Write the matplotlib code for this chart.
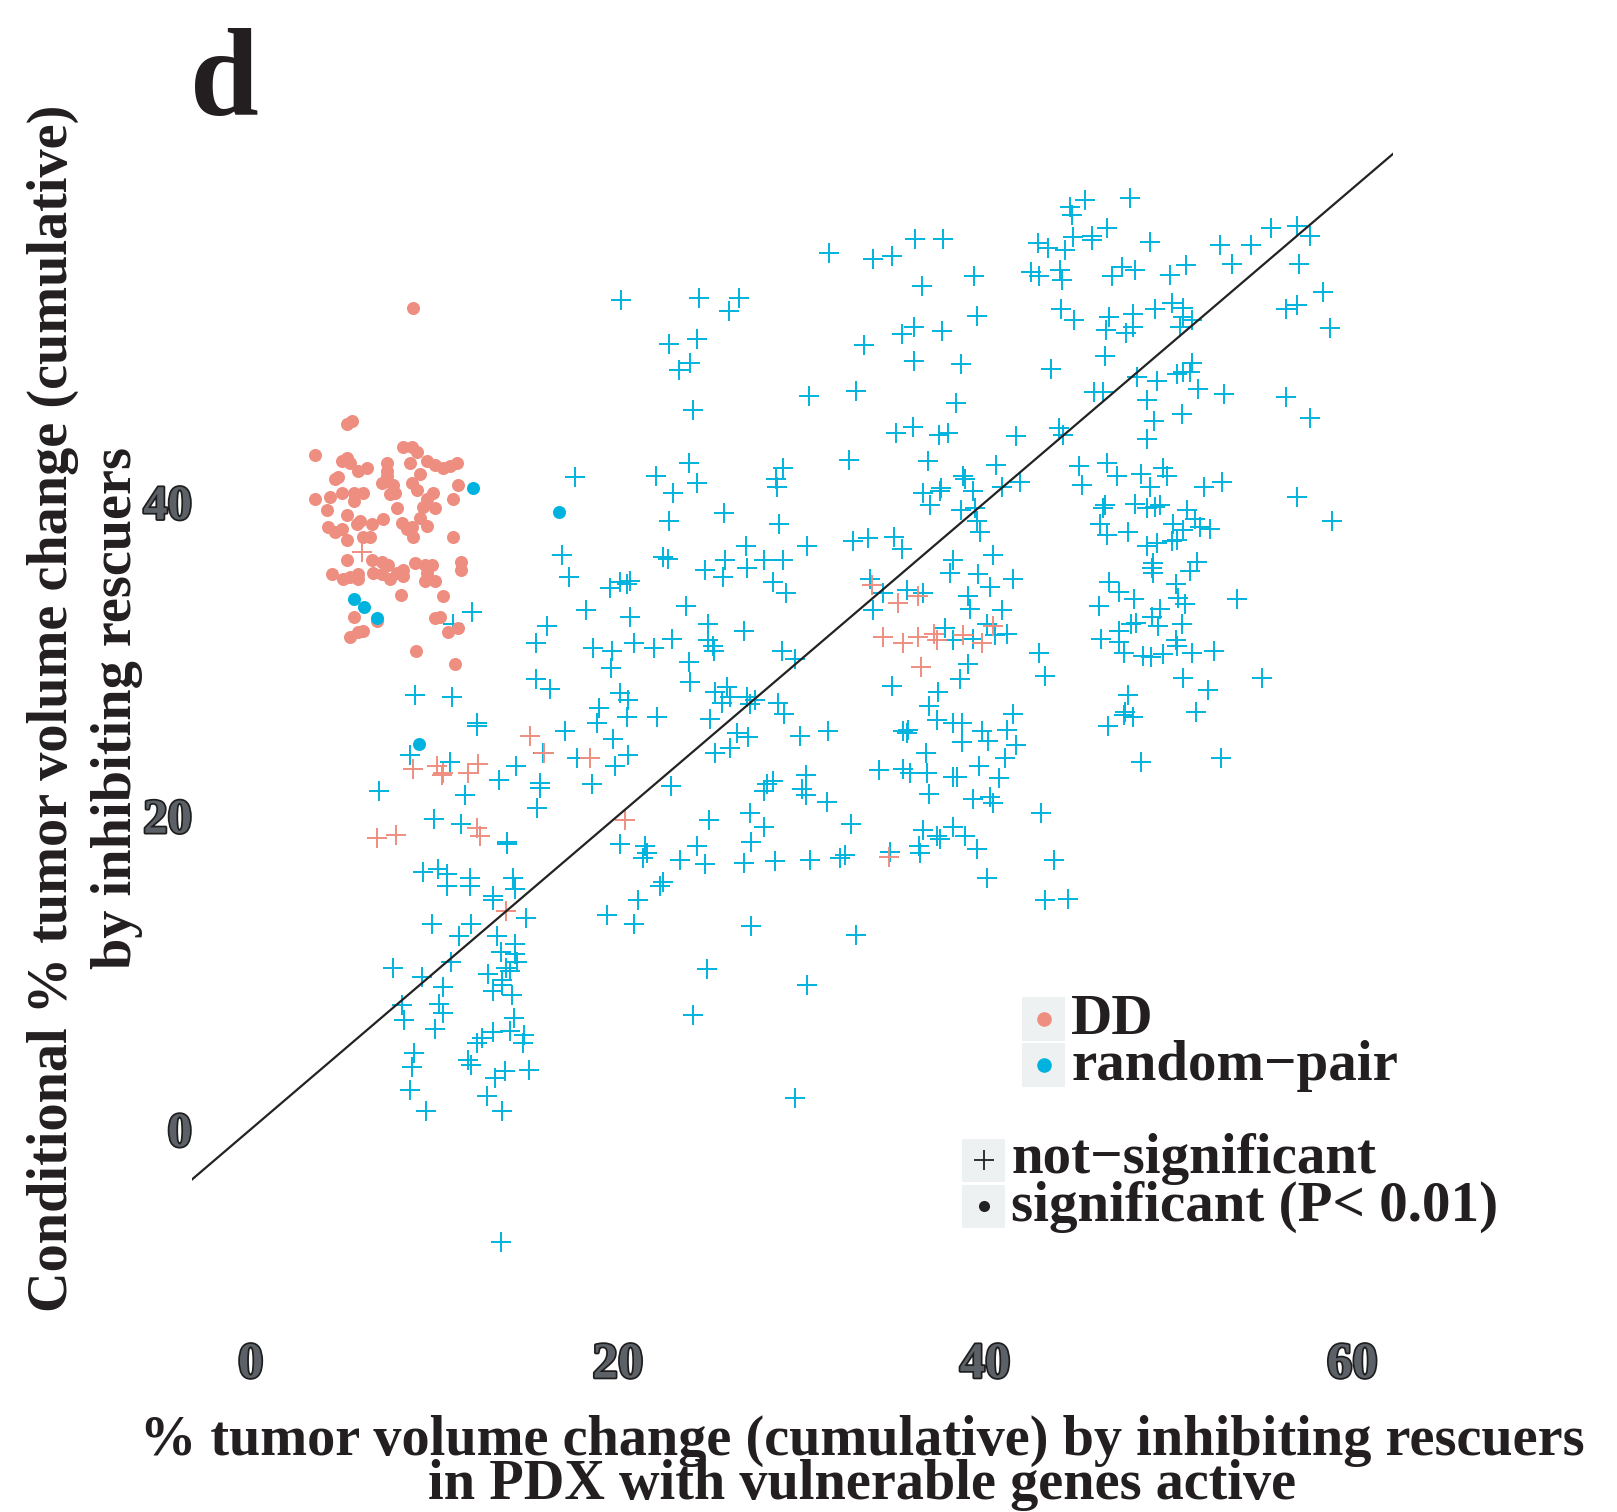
import matplotlib
matplotlib.use("Agg")
import matplotlib.pyplot as plt
import matplotlib.patheffects as pe
from matplotlib.patches import Rectangle
from matplotlib.lines import Line2D
import numpy as np

plt.rcParams['font.family'] = ['Liberation Serif', 'DejaVu Serif']
plt.rcParams['font.weight'] = 'bold'

# ---------------- data ----------------
# random-pair, not significant (crosses)
rp_ns = [
 (20.16,52.9),(17.67,41.6),
 (16.94,36.6),(17.36,35.2),(12.04,33.0),(11.0,32.2),(16.13,32.1),(18.27,33.1),(19.57,34.5),(20.12,34.9),(20.48,34.8),(20.66,35.0),(20.66,32.7),(15.55,31.0),(18.67,30.7),(19.67,30.5),(20.85,31.0),(19.62,29.4),(15.55,28.7),(16.3,28.1),(20.12,27.8),(20.57,27.4),(8.95,27.7),(10.95,27.6),(18.99,26.9),(18.85,25.9),(20.5,26.3),(12.3,25.9),(12.3,25.7),(17.12,25.4),(19.75,24.9),(20.57,23.9),(19.85,23.2),(17.76,23.7),(15.94,24.0),(10.86,23.4),(8.68,23.9),(14.46,23.2),(13.53,22.3),(15.76,22.1),(15.76,21.8),(18.58,22.0),(11.68,21.3),(6.99,21.6),(15.58,20.5),(9.99,19.8),(11.46,19.5),(13.95,18.3),(13.95,18.2),(20.12,18.2),(9.41,16.4),(10.22,16.6),(10.68,16.3),(11.95,16.0),(11.95,15.5),(10.68,15.5),(14.3,16.0),(14.4,15.3),
 (13.22,14.9),(13.22,14.6),(15.0,13.5),(9.86,13.1),(11.99,13.1),(11.35,12.3),(13.4,12.3),(19.43,13.7),(20.85,13.1),(21.12,14.6),(13.62,11.3),(14.4,11.2),(14.49,10.7),(14.4,11.8),(7.77,10.3),(9.32,9.7),(10.92,10.7),(10.46,9.1),(12.91,9.9),(13.91,10.3),(14.13,10.1),(13.68,9.5),(13.22,8.8),(14.22,8.6),(13.68,9.2),(8.23,7.9),(8.36,7.0),(10.28,8.0),(10.46,7.4),(10.04,6.4),(14.36,7.1),(13.19,6.2),(14.13,6.3),(14.89,6.0),(14.82,5.5),(12.31,5.5),(12.59,5.8),(8.9,4.9),(8.77,4.0),(11.86,4.4),(11.99,4.1),(13.86,3.7),(13.31,3.3),(15.18,3.8),(8.68,2.5),(12.89,2.1),(9.55,1.2),(13.68,1.2),(13.64,-7.2),
 (27.24,13.0),(32.97,12.4),(24.84,10.2),(30.29,9.2),(24.11,7.3),(29.65,2.0),
 (31.5,55.9),(33.88,55.5),(34.92,55.7),(36.19,56.8),(37.7,56.8),(39.42,54.4),(36.55,53.8),(39.55,51.9),(24.39,53.0),(26.6,53.0),(26.07,52.2),(22.8,50.1),(24.33,50.4),(23.9,48.9),(23.35,48.4),(24.08,45.9),(33.4,50.0),(36.1,51.2),(35.5,50.7),(37.64,50.9),(36.1,49.0),(38.67,48.8),(30.4,46.8),(32.96,47.1),(38.4,46.3),(35.15,44.4),(36.06,44.8),(37.5,44.3),(38.0,44.4),(32.6,42.7),(22.08,41.7),(22.99,40.6),(23.85,42.5),(24.33,41.2),(28.98,42.2),(28.62,41.5),(28.65,41.0),(22.8,38.8),(25.78,39.3),(28.8,38.6),(36.9,42.6),(38.82,41.7),(38.9,41.5),(37.6,40.9),(37.55,40.7),(36.6,40.6),(37.0,39.8),(39.33,40.7),(38.67,39.5),(39.45,39.6),(39.55,38.8),(39.7,38.1),(33.64,37.7),(35.04,37.8),(40.6,42.4),
 (44.63,58.8),(45.45,59.3),(44.72,58.3),(47.9,59.4),(42.9,56.5),(43.45,56.2),(44.36,56.1),(44.81,56.9),(45.8,57.0),(45.8,56.7),(46.63,57.5),(49.0,56.6),(42.5,54.7),(42.96,54.4),(44.1,54.8),(44.2,54.2),(46.9,54.4),(47.45,55.0),(48.17,54.8),(50.08,54.5),(50.93,55.1),(52.8,56.4),(54.47,56.4),(55.56,57.5),(56.98,57.6),(57.7,57.0),(53.44,55.2),(57.1,55.2),(58.4,53.4),(56.4,52.3),(56.98,52.6),(58.8,51.1),(44.12,52.3),(44.85,51.6),(46.77,51.8),(48.08,52.0),(46.6,51.0),(47.7,50.8),(48.05,51.2),(49.26,52.3),(50.2,52.7),(50.77,52.4),(50.77,51.8),(51.26,51.6),(50.6,51.2),(43.6,48.5),(46.55,49.3),(45.95,47.0),(46.44,47.0),(48.26,48.0),(49.35,47.7),(50.44,48.2),(50.8,48.3),(51.26,48.9),(51.17,48.3),(51.6,47.2),(53.0,46.9),(48.8,46.5),(49.2,45.2),(50.7,45.6),(48.8,44.0),(56.4,46.7),(57.7,45.4),(41.7,44.2),(44.0,44.7),(44.23,44.3),(41.9,41.3),(40.9,41.0),(45.14,42.3),(45.27,41.1),(46.63,42.5),(47.17,41.7),(48.48,41.8),(48.99,41.0),(49.71,42.2),(49.9,41.7),(51.9,41.0),(52.9,41.3),(56.98,40.3),(58.9,38.8),(46.44,39.6),(46.53,39.8),(46.26,38.6),(48.17,39.9),(48.8,39.6),(49.26,39.7),(49.5,39.8),(51.0,39.5),(51.44,38.9),(51.7,38.4),(52.25,38.3),(50.25,38.6),(50.8,38.2),(47.8,38.1),(46.63,37.9),
 (22.48,36.5),(22.75,36.4),(26.98,37.2),(30.3,37.2),(32.8,37.5),(35.46,37.0),(24.75,35.7),(25.84,36.3),(25.75,35.2),(27.05,35.8),(27.93,36.3),(29.0,36.3),(28.43,34.9),(29.16,34.2),(23.71,33.4),(24.93,32.2),(25.2,30.8),(25.24,30.5),(24.93,31.2),(26.88,31.8),(21.94,30.7),(22.94,31.3),(23.88,29.8),(23.93,28.5),(28.93,30.5),(29.65,30.0),(25.3,27.9),(25.93,28.2),(26.11,27.6),(25.66,27.2),(27.02,27.6),(27.2,27.1),(27.48,27.4),(28.74,27.2),(29.05,26.5),(22.12,26.3),(25.02,26.2),(26.48,25.3),(27.1,25.0),(26.11,24.3),(25.3,24.0),(29.92,25.1),(31.46,25.4),(33.73,35.1),(33.9,33.1),(34.46,34.2),(35.73,34.4),(36.64,34.2),(37.82,32.0),(38.27,31.2),(39.36,31.3),(40.1,32.2),(40.55,31.5),(39.63,35.4),(40.27,34.6),(39.09,34.0),(39.18,33.2),(38.27,36.3),(38.1,35.5),(40.45,36.6),(34.92,28.3),(39.09,29.7),(38.64,28.7),(37.46,27.9),(36.92,27.0),(37.37,26.1),(38.27,25.9),(38.73,25.9),(35.55,25.4),(35.73,25.3),(35.82,25.5),(38.73,24.7),(39.82,25.4),(40.18,24.8),(36.79,24.0),(34.2,22.9),(35.55,23.0),(35.92,22.7),(36.83,22.7),(38.27,22.5),(38.46,22.5),(39.64,23.2),(40.73,22.4),(36.92,21.4),(39.36,21.1),(40.27,21.2),(40.45,20.8),(22.9,21.9),(27.93,21.6),(28.47,22.2),(28.1,22.0),(30.22,22.6),(30.0,21.7),(30.22,21.3),(31.38,20.9),(27.2,20.2),(27.96,19.3),(27.25,18.3),(24.97,19.7),(32.68,19.5),(24.3,18.1),(23.39,17.2),(24.75,16.9),(21.48,18.1),(21.57,17.6),(21.39,17.3),(26.87,17.0),(28.56,17.1),(30.47,17.2),(32.1,17.3),(32.37,17.5),(36.6,19.1),(37.37,18.7),(37.55,18.5),(38.27,19.3),(38.91,18.7),(39.55,17.9),(36.42,18.1),(36.46,17.6),(34.83,17.7),(40.1,16.0),(22.48,15.8),(22.3,15.5),
 (41.5,35.1),(40.9,33.1),(41.19,31.6),(42.95,30.4),(43.28,28.9),(41.54,26.5),(41.19,25.5),(41.7,24.5),(41.1,23.7),(43.03,20.2),(43.76,17.2),(44.54,14.7),(43.27,14.6),(48.8,37.2),(49.35,37.4),(50.17,37.5),(50.44,37.6),(49.17,36.1),(49.08,35.8),(49.17,35.5),(51.54,36.2),(51.17,35.6),(46.75,34.9),(47.3,34.3),(46.2,33.4),(48.11,33.8),(50.39,34.8),(50.53,33.9),(50.9,33.5),(53.7,33.8),(49.53,33.2),(49.11,32.7),(49.4,32.1),(50.72,32.2),(47.95,32.2),(48.21,32.3),(47.3,31.8),(46.3,31.3),(47.3,31.1),(47.56,30.4),(48.62,30.2),(49.04,30.1),(49.67,30.3),(50.4,31.2),(50.44,30.8),(51.26,30.4),(52.44,30.5),(50.8,28.8),(55.1,28.8),(52.13,28.0),(47.8,27.7),(47.63,26.6),(48.05,26.3),(47.57,26.4),(51.5,26.6),(46.68,25.7),(52.85,23.7),(48.5,23.4),
]
rp_ns_x = [p[0] for p in rp_ns]
rp_ns_y = [p[1] for p in rp_ns]

# random-pair, significant (dots)
rp_sig_x = [12.13, 16.8, 5.64, 6.18, 6.9, 9.17]
rp_sig_y = [40.9, 39.4, 33.8, 33.3, 32.6, 24.6]

# DD, not significant (crosses)
dd_ns = [
 (6.05,36.8),(15.22,25.1),(15.95,24.0),(18.49,23.7),(8.83,23.0),(10.14,23.2),(10.5,22.7),(10.41,22.6),(11.86,22.7),(12.4,23.3),(6.9,18.6),(7.92,18.8),(12.3,19.2),(12.49,18.7),(20.39,19.7),(13.9,13.9),
 (33.83,34.7),(35.28,33.6),(36.37,34.0),(34.43,31.4),(35.55,31.0),(36.37,31.4),(37.19,31.6),(37.37,31.2),(38.82,31.5),(39.82,31.0),(40.45,32.1),(36.5,29.5),(34.74,17.4),
]
dd_ns_x = [p[0] for p in dd_ns]
dd_ns_y = [p[1] for p in dd_ns]

# DD, significant (dots)
dd_sig = [
 (8.86,52.4),
 (5.51,45.2),(5.23,45.0),(3.51,43.0),(4.96,42.6),(5.23,42.8),(5.41,42.5),(5.87,42.0),(6.32,42.2),(4.6,41.5),(4.78,41.6),(7.41,42.5),(7.41,42.0),(7.41,41.7),(8.32,43.5),(8.77,43.5),(9.05,43.2),(8.68,42.5),(9.59,42.6),(10.04,42.4),(10.5,42.2),(10.86,42.3),(11.23,42.5),(9.23,41.8),(7.14,41.2),(7.77,41.1),(7.86,40.6),(7.59,40.5),(8.77,41.2),(9.05,40.8),(9.95,40.6),(9.59,40.2),(11.3,41.1),(3.5,40.2),(4.32,40.3),(4.96,40.6),(5.6,40.6),(6.14,40.6),(5.6,40.1),(4.14,39.5),(5.23,39.2),(7.95,39.6),(9.41,39.7),(10.04,39.6),(11.0,40.2),(4.23,38.4),(4.6,38.1),(4.96,38.3),(5.78,38.6),(5.96,38.8),(6.6,38.6),(7.23,38.9),(8.23,38.7),(8.5,38.3),(8.77,38.4),(9.23,39.0),(9.59,38.5),(5.23,37.6),(6.14,37.8),(6.5,37.8),(8.86,37.8),(11.04,37.8),
 (5.23,36.3),(6.6,36.3),(4.42,35.4),(5.05,35.1),(5.41,35.2),(5.87,35.4),(5.87,35.1),(6.68,35.5),(7.14,36.2),(7.5,36.0),(7.14,35.4),(7.59,35.1),(7.95,35.5),(8.32,35.7),(8.32,35.3),(8.95,36.1),(9.5,36.0),(9.86,36.0),(9.59,35.5),(10.04,35.0),(9.5,35.0),(11.46,36.2),(11.46,35.7),(8.17,34.1),(10.5,34.0),(5.6,32.7),(6.14,31.8),(5.87,31.7),(5.41,31.4),(6.87,32.4),(10.04,32.6),(10.32,32.7),(10.77,31.7),(11.31,32.0),(8.99,30.5),(11.13,29.7),
]
dd_sig_x = [p[0] for p in dd_sig]
dd_sig_y = [p[1] for p in dd_sig]

x_ticks = [0, 20, 40, 60]
y_ticks = [0, 20, 40]

group_labels = ["DD", "random\u2212pair"]
sig_labels = ["not\u2212significant", "significant (P< 0.01)"]

# ---------------- styling ----------------
W, H = 1617, 1512
C_DD = '#EE8E80'
C_RP = '#00B3DE'
fig = plt.figure(figsize=(W/100, H/100), dpi=100)
fig.patch.set_facecolor('white')

def fx(px):
    return px / W

def fy(py):
    return 1 - py / H

ax = fig.add_axes([0.1187, 0.1442, 0.7426, 0.7601])
ax.set_xlim(-3.2, 62.2)
ax.set_ylim(-10.5, 62.8)
for s in ax.spines.values():
    s.set_visible(False)
ax.set_facecolor('white')

cross_kw = dict(marker='+', s=200, linewidths=1.4)
ax.scatter(rp_ns_x, rp_ns_y, color=C_RP, zorder=2, **cross_kw)
ax.scatter(dd_ns_x, dd_ns_y, color=C_DD, zorder=2, **cross_kw)
ax.scatter(dd_sig_x, dd_sig_y, color=C_DD, s=88, marker='o', linewidths=0, zorder=3)
ax.scatter(rp_sig_x, rp_sig_y, color=C_RP, s=88, marker='o', linewidths=0, zorder=4)

xl = ax.get_xlim()
ax.plot(xl, xl, color='#222222', lw=1.6, zorder=5)
ax.set_xlim(xl)

ax.set_xticks(x_ticks)
ax.set_yticks(y_ticks)
ax.set_xticklabels([str(v) for v in x_ticks])
ax.set_yticklabels([str(v) for v in y_ticks])
ax.tick_params(axis='both', length=0, labelcolor='#5b6166')
ax.tick_params(axis='x', pad=35, labelsize=36.5)
ax.tick_params(axis='y', pad=0, labelsize=35)
for lab in ax.get_xticklabels() + ax.get_yticklabels():
    lab.set_fontweight('bold')
    lab.set_path_effects([pe.withStroke(linewidth=2.5, foreground='#1e1e1e')])

TXT = '#231f20'
# axis titles
fig.text(fx(85), fy(708), "Conditional % tumor volume change (cumulative)\nby inhibiting rescuers",
         rotation=90, ha='center', va='center', multialignment='center',
         fontsize=40.5, fontweight='bold', color=TXT, linespacing=1.3)
fig.text(fx(862), fy(1463), "% tumor volume change (cumulative) by inhibiting rescuers\n"
         "in PDX with vulnerable genes active",
         ha='center', va='center', multialignment='center', linespacing=0.8,
         fontsize=40.5, fontweight='bold', color=TXT)

# panel letter
fig.text(fx(190), fy(115), "d", ha='left', va='baseline', fontsize=89, fontweight='bold', color=TXT)

# legends
KEY_BG = '#EEF1F2'
def key_box(x0, y0, x1, y1):
    fig.add_artist(Rectangle((fx(x0), fy(y1)), (x1 - x0) / W, (y1 - y0) / H,
                             transform=fig.transFigure, facecolor=KEY_BG, edgecolor='none'))

# colour legend
col_boxes = [(997, 1040.7, 1019), (1043, 1086.7, 1065)]
for (y0, y1, yc), col in zip(col_boxes, [C_DD, C_RP]):
    key_box(1022, y0, 1065, y1)
    fig.add_artist(Line2D([fx(1043.5)], [fy(yc)], marker='o', markersize=10.5, color=col,
                          markeredgewidth=0, transform=fig.transFigure))
fig.text(fx(1071), fy(1080), "\n".join(group_labels), ha='left', va='baseline',
         multialignment='left', linespacing=0.86, fontsize=41, fontweight='bold', color=TXT)

# shape legend
shp_boxes = [(1139, 1181.7, 1160, '+'), (1185, 1227.7, 1206, 'o')]
for (y0, y1, yc, mk) in shp_boxes:
    key_box(962, y0, 1005, y1)
    if mk == '+':
        fig.add_artist(Line2D([fx(983.5)], [fy(yc)], marker='+', markersize=14, color='#222222',
                              markeredgewidth=1.3, transform=fig.transFigure))
    else:
        fig.add_artist(Line2D([fx(983.5)], [fy(yc)], marker='o', markersize=8, color='#222222',
                              markeredgewidth=0, transform=fig.transFigure))
fig.text(fx(1011), fy(1221), "\n".join(sig_labels), ha='left', va='baseline',
         multialignment='left', linespacing=0.9, fontsize=41, fontweight='bold', color=TXT)

fig.savefig('out.png', dpi=100, facecolor='white')
